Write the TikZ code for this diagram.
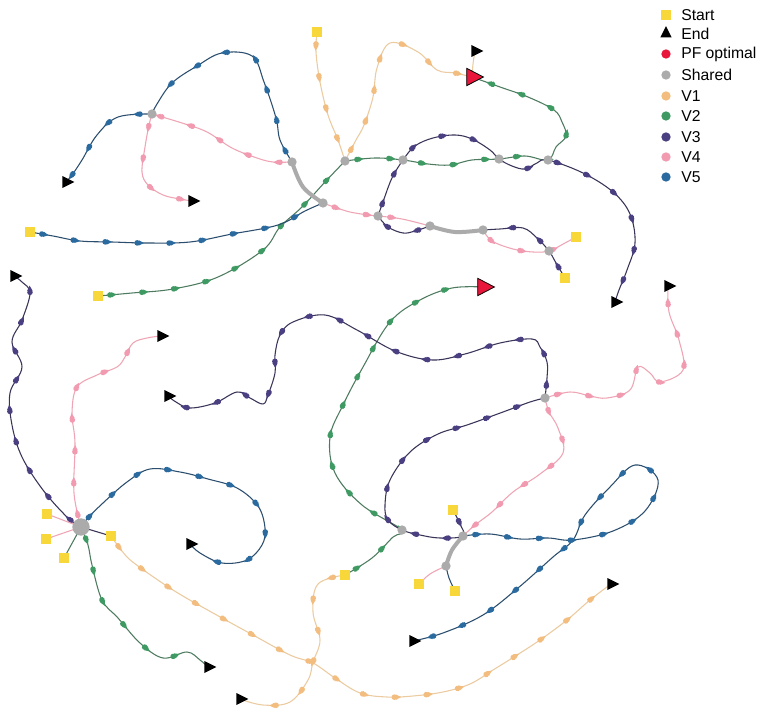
\documentclass[tikz,border=0pt]{standalone}
\usepackage{fontspec}
\setmainfont{Liberation Sans}
\usetikzlibrary{shapes.geometric,decorations.markings}
\pgfdeclarelayer{bg}
\pgfsetlayers{bg,main}
\definecolor{cv1}{HTML}{F2BD7E}
\definecolor{lv1}{HTML}{EBCB9F}
\definecolor{cv2}{HTML}{3E9A62}
\definecolor{lv2}{HTML}{4E7B60}
\definecolor{cv3}{HTML}{4A3F80}
\definecolor{lv3}{HTML}{3A3458}
\definecolor{cv4}{HTML}{F29BB0}
\definecolor{lv4}{HTML}{EFA5B5}
\definecolor{cv5}{HTML}{2A6A9E}
\definecolor{lv5}{HTML}{2C4E6E}
\definecolor{cshared}{HTML}{ABABAB}
\definecolor{cstart}{HTML}{F7D73A}
\definecolor{cpf}{HTML}{E8163A}
\begin{document}
\begin{tikzpicture}[x=0.75pt,y=-0.75pt,
  traj/.style 2 args={line width=0.8pt, draw=#1,
    postaction={decorate,decoration={markings,
      mark=between positions 9pt and -7pt step 24pt with {\fill[#2] circle (2.1pt);
        \fill[#2] (5pt,0) -- (1.2pt,2pt) -- (1.2pt,-2pt) -- cycle;}}}},
  v1/.style={traj={lv1}{cv1}},
  v2/.style={traj={lv2}{cv2}},
  v3/.style={traj={lv3}{cv3}},
  v4/.style={traj={lv4}{cv4}},
  v5/.style={traj={lv5}{cv5}},
  stub/.style={line width=0.8pt, draw=#1},
  sharedseg/.style={line width=3pt, draw=cshared, line cap=round},
  startsq/.style={rectangle, fill=cstart, minimum size=8pt, inner sep=0pt},
  endtri/.style={isosceles triangle, isosceles triangle stretches, fill=black, inner sep=0pt, minimum width=9pt, minimum height=9pt},
  pftri/.style={isosceles triangle, isosceles triangle stretches, fill=cpf, draw=black, line width=0.6pt, inner sep=0pt, minimum width=13pt, minimum height=12.5pt},
  shared/.style={circle, fill=cshared, inner sep=0pt, minimum size=7pt},
  legdot/.style={circle, fill=#1, inner sep=0pt, minimum size=7pt},
  legtext/.style={anchor=west, inner sep=0pt, font=\fontsize{11.8pt}{13pt}\selectfont},
  smoothp/.style={smooth, tension=0.6}
]
\useasboundingbox (0,0) rectangle (763,716);

% shared nodes
\node[shared] (S1) at (152,114) {};
\node[shared] (S2) at (292,162) {};
\node[shared] (S3) at (323,203) {};
\node[shared] (S4) at (345,161) {};
\node[shared] (S5) at (403,160) {};
\node[shared] (S6) at (499,159) {};
\node[shared] (S7) at (548,160) {};
\node[shared] (S8) at (378,216) {};
\node[shared] (S9) at (430,226) {};
\node[shared] (S10) at (483,230) {};
\node[shared] (S11) at (549,251) {};
\node[shared, minimum size=13pt] (S12) at (81,527) {};
\node[shared] (S13) at (545,398) {};
\node[shared] (S14) at (402,530) {};
\node[shared] (S15) at (463,536) {};
\node[shared] (S16) at (446,566) {};

% starts
\node[startsq] (A1) at (317,32) {};
\node[startsq] (A2) at (30,232) {};
\node[startsq] (A3) at (98,296) {};
\node[startsq] (A4) at (576,237) {};
\node[startsq] (A5) at (565,278) {};
\node[startsq] (A6) at (47,514) {};
\node[startsq] (A7) at (46,539) {};
\node[startsq] (A8) at (64,558) {};
\node[startsq] (A9) at (111,536) {};
\node[startsq] (A10) at (453,510) {};
\node[startsq] (A11) at (419,584) {};
\node[startsq] (A12) at (455,591) {};
\node[startsq] (A13) at (345,575) {};

% ends
\node[endtri] (E1) at (475,51) {};
\node[endtri] (E2) at (66,182) {};
\node[endtri] (E3) at (192,201) {};
\node[endtri] (E4) at (14,276) {};
\node[endtri] (E5) at (615,302) {};
\node[endtri] (E6) at (668,286) {};
\node[endtri] (E7) at (161,336) {};
\node[endtri] (E8) at (168,396) {};
\node[endtri] (E9) at (190,544) {};
\node[endtri] (E10) at (208,667) {};
\node[endtri] (E11) at (240,699) {};
\node[endtri] (E12) at (413,641) {};
\node[endtri] (E13) at (611,584) {};

% PF optimal
\node[pftri] (P1) at (472,77) {};
\node[pftri] (P2) at (483,287) {};

\begin{pgfonlayer}{bg}
\fill[white] (0,0) rectangle (763,716);
% V1
\draw[v1] plot[smoothp] coordinates {(A1.center) (316,52) (320,82) (328,115) (338,140) (S4.center)};
\draw[v1] plot[smoothp] coordinates {(S4.center) (356,140) (364,125) (373,97) (377,68) (390,43) (418,52) (437,70) (455,73) (P1.center)};
\draw[stub=lv1] plot[smoothp] coordinates {(P1.center) (473,64) (E1.center)};
\draw[v1] plot[smoothp] coordinates {(A9.center) (122,551) (134,563) (173,590) (213,613) (253,635) (290,655) (313,663) (335,678) (360,693) (387,697) (413,696) (443,692) (470,684) (493,670) (517,655) (540,640) (567,620) (590,600) (E13.center)};
\draw[v1] plot[smoothp] coordinates {(A13.center) (318,584) (313,612) (320,640) (313,662) (308,680) (290,702) (263,705) (E11.center)};
% V2
\draw[v2] plot[smoothp] coordinates {(A3.center) (132,293) (173,289) (218,277) (263,250) (280,227) (302,207) (325,182) (S4.center)};
\draw[v2] plot[smoothp] coordinates {(S4.center) (375,158) (S5.center) (428,164) (450,165) (472,160) (S6.center) (525,156) (S7.center) (556,147) (566,136) (562,122) (554,110) (528,97) (500,87) (P1.center)};
\draw[v2] plot[smoothp] coordinates {(A13.center) (372,558) (393,537) (S14.center) (362,505) (335,473) (330,437) (343,405) (363,367) (390,322) (420,300) (452,288) (P2.center)};
\draw[stub=lv2] (A8.center) -- (S12.center);
\draw[v2] plot[smoothp] coordinates {(S12.center) (88,545) (92,565) (102,600) (118,618) (140,643) (163,658) (187,652) (200,660) (E10.center)};
% V3
\draw[v3] plot[smoothp] coordinates {(A5.center) (556,263) (S11.center) (537,238) (523,228) (500,229) (S10.center)};
\draw[v3] plot[smoothp] coordinates {(S9.center) (415,231) (403,233) (388,227) (S8.center)};
\draw[v3] plot[smoothp] coordinates {(S8.center) (384,199) (392,178) (S5.center) (415,146) (433,138) (455,135) (472,139) (490,150) (S6.center) (512,166) (525,169) (537,163) (S7.center) (583,173) (613,192) (630,214) (635,243) (627,270) (619,290) (E5.center)};
\draw[v3] plot[smoothp] coordinates {(A10.center) (460,524) (S15.center) (440,538) (420,535) (S14.center) (388,520) (385,505) (390,480) (410,452) (438,434) (467,425) (503,412) (530,402) (S13.center)};
\draw[v3] plot[smoothp] coordinates {(S13.center) (547,378) (547,362) (540,347) (532,339) (500,343) (465,354) (432,360) (395,351) (357,330) (325,315) (293,322) (280,335) (275,355) (275,373) (268,395) (263,404) (250,398) (237,392) (215,403) (190,408) (176,402) (E8.center)};
\draw[stub=lv3] (A9.center) -- (S12.center);
\draw[v3] plot[smoothp] coordinates {(S12.center) (67,517) (43,490) (22,457) (12,425) (10,393) (22,367) (12,342) (22,320) (30,293) (22,282) (E4.center)};
% V4
\draw[v4] plot[smoothp] coordinates {(S2.center) (273,162) (257,158) (232,148) (207,132) (182,123) (S1.center)};
\draw[v4] plot[smoothp] coordinates {(S1.center) (149,125) (145,147) (142,172) (148,185) (163,195) (180,199) (E3.center)};
\draw[v4] plot[smoothp] coordinates {(S3.center) (350,212) (S8.center)};
\draw[v4] plot[smoothp] coordinates {(S8.center) (402,219) (S9.center)};
\draw[v4] plot[smoothp] coordinates {(S10.center) (492,241) (513,249) (533,252) (S11.center) (565,243) (A4.center)};
\draw[v4] plot[smoothp] coordinates {(S12.center) (74,493) (75,443) (72,413) (77,387) (97,375) (117,367) (125,357) (133,343) (147,338) (E7.center)};
\draw[stub=lv4] (A6.center) -- (S12.center);
\draw[stub=lv4] (A7.center) -- (S12.center);
\draw[v4] plot[smoothp] coordinates {(S13.center) (570,392) (590,396) (607,398) (630,390) (638,367) (650,373) (660,382) (683,370) (679,340) (669,312) (E6.center)};
\draw[v4] plot[smoothp] coordinates {(S13.center) (549,412) (558,428) (563,453) (540,474) (513,492) (492,512) (475,525) (S15.center)};
\draw[stub=lv4] plot[smoothp] coordinates {(S16.center) (430,574) (A11.center)};
% V5
\draw[v5] plot[smoothp] coordinates {(A2.center) (53,236) (80,241) (112,242) (147,243) (190,242) (232,234) (278,225) (305,211) (S3.center)};
\draw[v5] plot[smoothp] coordinates {(S2.center) (280,140) (276,118) (264,82) (252,56) (222,53) (197,66) (172,83) (157,104) (S1.center)};
\draw[v5] plot[smoothp] coordinates {(S1.center) (118,117) (97,135) (82,160) (72,175) (E2.center)};
\draw[v5] plot[smoothp] coordinates {(S12.center) (88,518) (103,503) (127,482) (150,469) (180,472) (208,479) (237,488) (258,506) (265,528) (262,545) (247,560) (222,563) (200,553) (E9.center)};
\draw[v5] plot[smoothp] coordinates {(S15.center) (490,534) (520,539) (548,538) (573,540) (613,531) (645,511) (658,480) (635,465) (610,487) (585,515) (573,540) (553,557) (518,588) (483,615) (443,633) (E12.center)};
\draw[stub=lv5] plot[smoothp] coordinates {(A12.center) (449,578) (S16.center)};
% shared segments
\draw[sharedseg] plot[smoothp] coordinates {(S3.center) (303,187) (S2.center)};
\draw[sharedseg] plot[smoothp] coordinates {(S9.center) (455,232) (S10.center)};
\draw[sharedseg] plot[smoothp] coordinates {(S15.center) (452,550) (S16.center)};
\end{pgfonlayer}

% legend
\node[startsq, minimum size=7.5pt] (LS) at (666,15) {};
\node[legtext] (LSt) at (681,15) {Start};
\node[endtri, shape border rotate=90, minimum width=8.5pt, minimum height=8.5pt] (LE) at (666,34) {};
\node[legtext] (LEt) at (681,34) {End};
\node[legdot=cpf] (LP) at (666,54) {};
\node[legtext] (LPt) at (681,54) {PF optimal};
\node[legdot=cshared] (LH) at (666,75) {};
\node[legtext] (LHt) at (681,75) {Shared};
\node[legdot=cv1] (L1) at (666,96) {};
\node[legtext] (L1t) at (681,96) {V1};
\node[legdot=cv2] (L2) at (666,116) {};
\node[legtext] (L2t) at (681,116) {V2};
\node[legdot=cv3] (L3) at (666,137) {};
\node[legtext] (L3t) at (681,137) {V3};
\node[legdot=cv4] (L4) at (666,157) {};
\node[legtext] (L4t) at (681,157) {V4};
\node[legdot=cv5] (L5) at (666,177) {};
\node[legtext] (L5t) at (681,177) {V5};
\end{tikzpicture}
\end{document}
